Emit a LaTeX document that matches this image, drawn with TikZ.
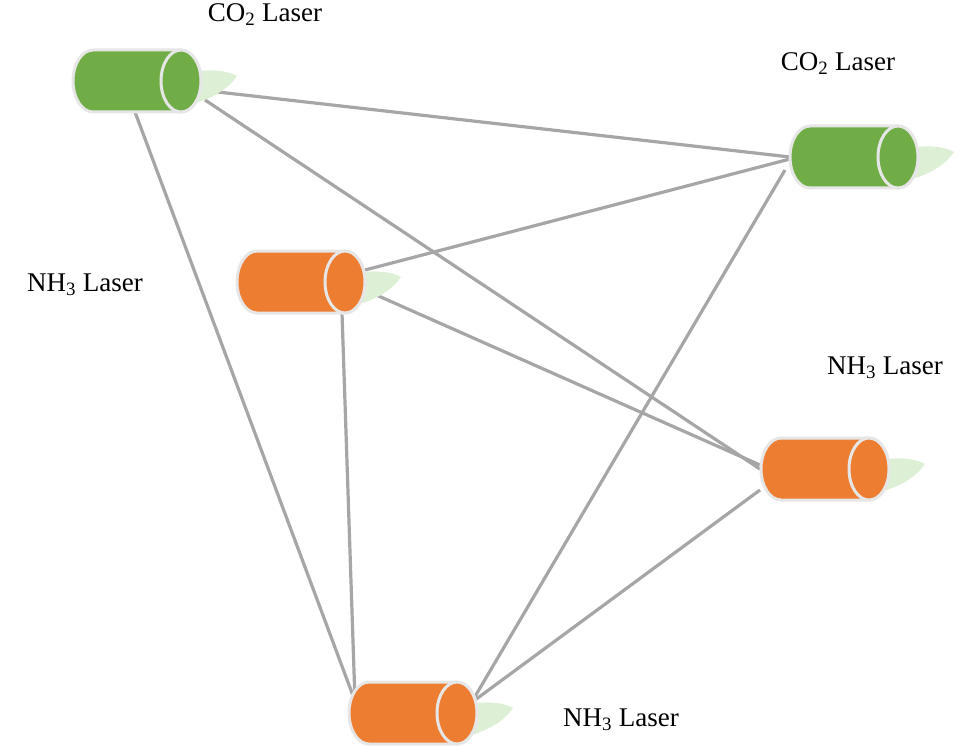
\documentclass[tikz,border=0pt]{standalone}
\usepackage{fontspec}
\setmainfont{Liberation Serif}
\usetikzlibrary{calc}
\definecolor{lgreen}{HTML}{70AD47}
\definecolor{lorange}{HTML}{ED7D31}
\definecolor{beam}{HTML}{DDEFD5}
\definecolor{rim}{HTML}{E6E6E6}
\definecolor{wire}{HTML}{A6A6A6}
\tikzset{
  wire/.style={draw=wire,line width=3.2pt},
  lbl/.style={font=\fontsize{27}{30}\selectfont,inner sep=0pt},
  box/.style={minimum width=128pt,minimum height=62pt,inner sep=0pt},
  pics/laser/.style={code={
    \fill[beam] (50,-8) .. controls (80,-14) and (95,-8) .. (100,-5) .. controls (90,10) and (70,20) .. (50,24) -- cycle;
    \draw[fill=#1,draw=rim,line width=3pt] (44,-31) -- (-44,-31) arc[start angle=90,end angle=270,x radius=20,y radius=-31] -- (44,31) arc[start angle=-90,end angle=90,x radius=20,y radius=-31] -- cycle;
    \draw[fill=#1,draw=rim,line width=3pt] (44,0) ellipse[x radius=20,y radius=31];
  }}
}
\begin{document}
\begin{tikzpicture}[x=1pt,y=-1pt]
\useasboundingbox (0,0) rectangle (969,746);
\node[box] (l1) at (137,81) {};
\node[box] (l2) at (854,157) {};
\node[box] (l3) at (301,282) {};
\node[box] (l4) at (825,469) {};
\node[box] (l5) at (413,713) {};
\draw[wire] ($(l1.center)+(63,9)$) -- ($(l2.center)+(-64,0)$);
\draw[wire] ($(l1.center)+(68,19)$) -- ($(l4.center)+(-65,0)$);
\draw[wire] ($(l1.center)+(-2,31)$) -- ($(l5.center)+(-58,-12)$);
\draw[wire] ($(l3.center)+(64,-12)$) -- ($(l2.center)+(-64,2)$);
\draw[wire] ($(l3.center)+(64,8)$) -- ($(l4.center)+(-65,-4)$);
\draw[wire] ($(l3.center)+(41,31)$) -- ($(l5.center)+(-58,-12)$);
\draw[wire] ($(l2.center)+(-69,13)$) -- ($(l5.center)+(57,-8)$);
\draw[wire] ($(l4.center)+(-65,21)$) -- ($(l5.center)+(62,-13)$);
\pic at (l1.center) {laser=lgreen};
\pic at (l2.center) {laser=lgreen};
\pic at (l3.center) {laser=lorange};
\pic at (l4.center) {laser=lorange};
\pic at (l5.center) {laser=lorange};
\node[lbl] (t1) at (265,15) {CO\textsubscript{2} Laser};
\node[lbl] (t2) at (838,64) {CO\textsubscript{2} Laser};
\node[lbl] (t3) at (85,285) {NH\textsubscript{3} Laser};
\node[lbl] (t4) at (885,368) {NH\textsubscript{3} Laser};
\node[lbl] (t5) at (621,720) {NH\textsubscript{3} Laser};
\end{tikzpicture}
\end{document}
